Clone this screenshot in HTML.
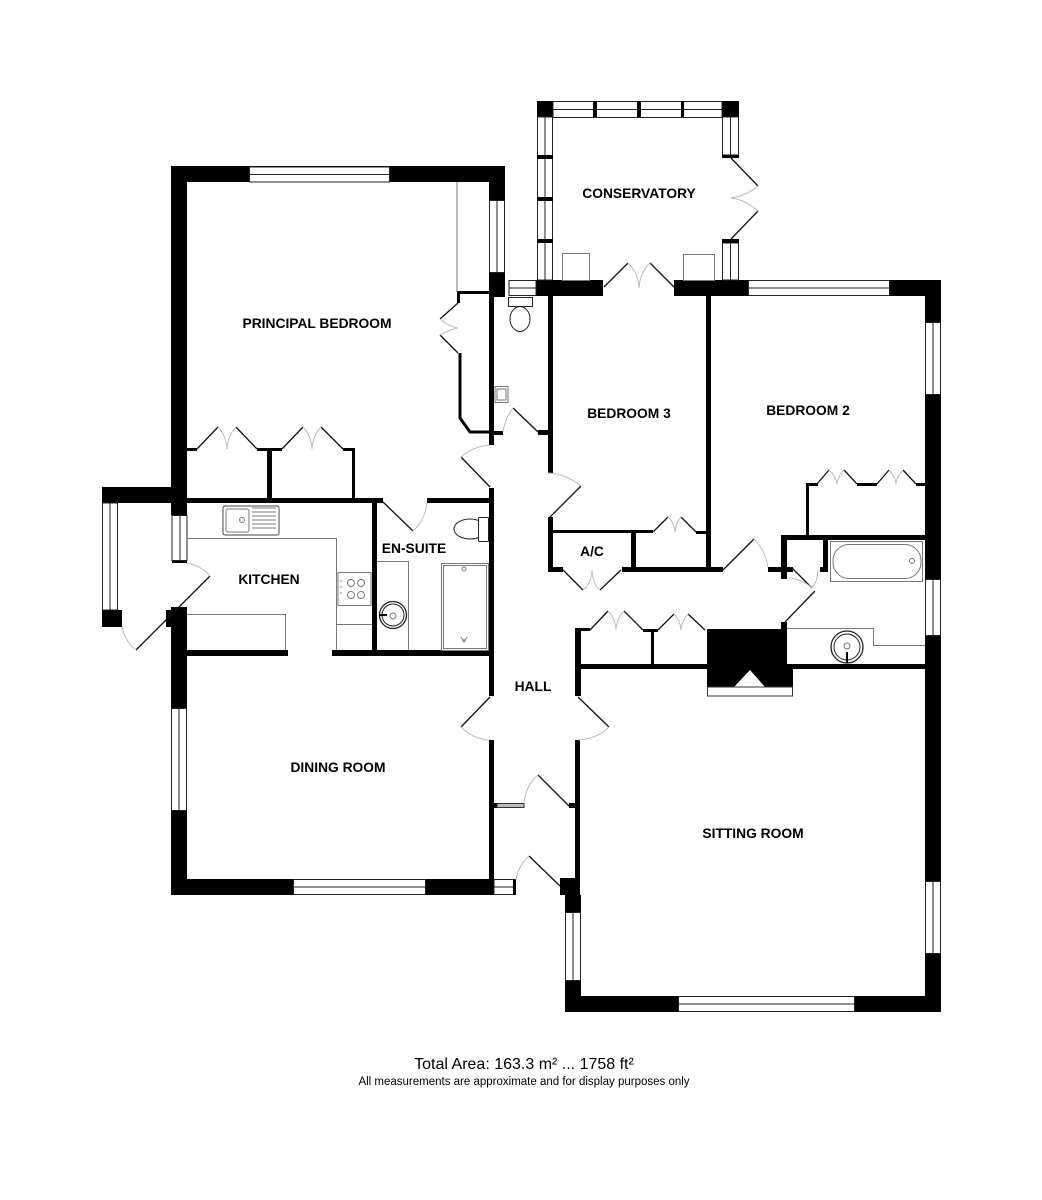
<!DOCTYPE html>
<html><head><meta charset="utf-8"><style>
html,body{margin:0;padding:0;background:#fff;width:1042px;height:1200px;overflow:hidden}
svg{display:block}
text{font-family:"Liberation Sans",sans-serif}
.l{font-weight:bold;font-size:13.8px;text-anchor:middle;fill:#000}
.w{fill:#fff;stroke:#222;stroke-width:1}
.g{fill:none;stroke:#777;stroke-width:1}
.d{stroke:#111;stroke-width:1.3;fill:none}
.a{stroke:#bbb;stroke-width:1;fill:none}
.f{fill:#fff;stroke:#333;stroke-width:1}
</style></head><body>
<svg width="1042" height="1200" viewBox="0 0 1042 1200" xmlns="http://www.w3.org/2000/svg">
<rect width="1042" height="1200" fill="#fff"/>
<g fill="#000">
<rect x="171" y="166" width="334" height="16"/>
<rect x="171" y="166" width="16" height="349"/>
<rect x="489" y="166" width="16" height="34"/>
<rect x="489" y="272" width="16" height="25"/>
<rect x="102" y="487" width="85" height="16"/>
<rect x="102" y="610" width="20" height="17"/>
<rect x="172" y="560" width="15" height="3"/>
<rect x="171" y="607" width="16" height="288"/>
<rect x="166" y="610" width="6" height="17"/>
<rect x="171" y="879" width="323" height="16"/>
<rect x="489" y="292" width="5" height="153"/>
<rect x="489" y="488" width="5" height="208"/>
<rect x="489" y="740" width="5" height="155"/>
<rect x="187" y="498" width="196" height="5"/>
<rect x="427" y="498" width="62" height="5"/>
<rect x="372" y="503" width="5" height="150"/>
<rect x="187" y="650" width="101" height="6"/>
<rect x="332" y="650" width="157" height="6"/>
<rect x="187" y="448" width="10" height="3"/>
<rect x="257" y="448" width="25" height="3"/>
<rect x="343" y="448" width="12" height="3"/>
<rect x="267" y="448" width="5" height="50"/>
<rect x="352" y="448" width="3" height="50"/>
<rect x="457" y="291" width="33" height="3"/>
<rect x="457" y="291" width="3" height="12"/>
<rect x="494" y="431" width="9" height="4"/>
<rect x="538" y="430" width="10" height="5"/>
<rect x="536" y="280" width="67" height="16"/>
<rect x="674" y="280" width="74" height="16"/>
<rect x="889" y="280" width="52" height="16"/>
<rect x="925" y="280" width="16" height="732"/>
<rect x="548" y="296" width="5" height="177"/>
<rect x="706" y="296" width="5" height="276"/>
<rect x="537" y="101" width="16" height="16"/>
<rect x="722" y="101" width="17" height="16"/>
<rect x="548" y="517" width="5" height="55"/>
<rect x="553" y="530" width="100" height="3"/>
<rect x="696" y="531" width="10" height="3"/>
<rect x="553" y="567" width="10" height="5"/>
<rect x="622" y="567" width="101" height="5"/>
<rect x="631" y="533" width="5" height="37"/>
<rect x="806" y="483" width="3" height="52"/>
<rect x="806" y="483" width="12" height="3"/>
<rect x="857" y="483" width="20" height="3"/>
<rect x="916" y="483" width="9" height="3"/>
<rect x="781" y="535" width="144" height="5"/>
<rect x="781" y="535" width="6" height="44"/>
<rect x="768" y="567" width="25" height="5"/>
<rect x="823" y="540" width="5" height="32"/>
<rect x="820" y="567" width="8" height="5"/>
<rect x="575" y="628" width="6" height="68"/>
<rect x="575" y="628" width="15" height="3"/>
<rect x="643" y="629" width="15" height="3"/>
<rect x="651" y="630" width="3" height="34"/>
<rect x="575" y="664" width="350" height="5"/>
<rect x="707" y="629" width="80" height="35"/>
<rect x="781" y="622" width="6" height="42"/>
<rect x="707" y="669" width="86" height="18"/>
<rect x="575" y="740" width="5" height="172"/>
<rect x="494" y="803" width="3" height="5"/>
<rect x="569" y="803" width="6" height="5"/>
<rect x="560" y="878" width="20" height="17"/>
<rect x="565" y="895" width="16" height="17"/>
<rect x="565" y="980" width="16" height="32"/>
<rect x="565" y="996" width="376" height="16"/>
</g>
<path d="M460 353V418L470 432H490" fill="none" stroke="#000" stroke-width="3"/>
<polygon points="734,687 765,687 750,670" fill="#fff"/>
<rect x="707.5" y="687" width="85" height="9" class="f"/>
<g class="w">
<rect x="249.5" y="167" width="140" height="15"/><line x1="249" y1="174.5" x2="389" y2="174.5"/>
<rect x="489.5" y="200.5" width="15" height="72"/><line x1="497" y1="200" x2="497" y2="272"/>
<rect x="509" y="280.5" width="27" height="15"/><line x1="509" y1="288" x2="536" y2="288"/>
<rect x="748.5" y="280.5" width="141" height="15"/><line x1="748" y1="288" x2="889" y2="288"/>
<rect x="925.5" y="322.5" width="15" height="72"/><line x1="933" y1="322" x2="933" y2="394"/>
<rect x="925.5" y="579.5" width="15" height="56"/><line x1="933" y1="579" x2="933" y2="635"/>
<rect x="925.5" y="881.5" width="15" height="72"/><line x1="933" y1="881" x2="933" y2="953"/>
<rect x="678.5" y="996.5" width="176" height="15"/><line x1="678" y1="1004" x2="854" y2="1004"/>
<rect x="565.5" y="912.5" width="15" height="68"/><line x1="573" y1="912" x2="573" y2="980"/>
<rect x="293.5" y="879.5" width="132" height="15"/><line x1="293" y1="887" x2="425" y2="887"/>
<rect x="171.5" y="708.5" width="15" height="102"/><line x1="179" y1="708" x2="179" y2="810"/>
<rect x="172" y="515.5" width="15" height="45"/><line x1="180" y1="515" x2="180" y2="560"/>
<rect x="102.5" y="503" width="15" height="107"/><line x1="110" y1="503" x2="110" y2="610"/>
<rect x="494" y="879.5" width="21" height="15"/><line x1="494" y1="887" x2="515" y2="887"/>
<rect x="553" y="101.5" width="169" height="16"/><line x1="553" y1="109.5" x2="722" y2="109.5"/>
<rect x="537.5" y="117" width="15" height="163"/><line x1="545" y1="117" x2="545" y2="280"/>
<rect x="722.5" y="117" width="16" height="38"/><line x1="730.5" y1="117" x2="730.5" y2="155"/>
<rect x="722.5" y="243" width="16" height="37"/><line x1="730.5" y1="243" x2="730.5" y2="280"/>
</g>
<g fill="#000">
<rect x="593" y="101" width="4" height="16"/><rect x="637" y="101" width="4" height="16"/><rect x="681" y="101" width="3" height="16"/>
<rect x="537" y="155" width="16" height="4"/><rect x="537" y="197" width="16" height="4"/><rect x="537" y="239" width="16" height="4"/>
<rect x="722" y="155" width="17" height="3"/><rect x="722" y="239" width="17" height="4"/>
<rect x="513" y="879" width="3" height="16"/>
</g>
<rect x="497" y="803.5" width="27" height="4" fill="#bbb" stroke="#333"/>
<g class="d">
<path d="M731 158L758 186M758 211L731 239"/>
<path d="M604 287L628 263M650 263L674 287"/>
<path d="M458 303L440 319M440 335L458 353"/>
<path d="M513 408L538 432"/>
<path d="M461 457L490 487"/>
<path d="M197 449L218 427M236 427L257 449M282 449L303 427M321 427L343 449"/>
<path d="M383 502L413 531"/>
<path d="M210 576L136 650"/>
<path d="M581 486L550 517"/>
<path d="M563 570L583 590M600 590L621 570"/>
<path d="M653 532L668 517M681 517L696 532"/>
<path d="M723 570L754 539"/>
<path d="M792 568L812 588"/>
<path d="M815 591L785 622"/>
<path d="M817 484L829 470M844 470L857 484M877 484L889 470M903 470L916 484"/>
<path d="M590 630L608 611M624 611L643 630M658 630L674 614M688 614L705 630"/>
<path d="M490 697L461 727M578 697L609 727"/>
<path d="M538 775L569 806M529 856L560 886"/>
</g>
<g class="a">
<path d="M758 186Q746 196 731 198Q746 200 758 211"/>
<path d="M628 263Q638 272 639 288Q640 272 650 263"/>
<path d="M440 319Q450 327 458 328Q450 329 440 335"/>
<path d="M513 408Q505 418 503 432"/>
<path d="M461 457Q472 447 489 445"/>
<path d="M218 427Q226 435 227 449Q228 435 236 427M303 427Q311 435 312 449Q313 435 321 427"/>
<path d="M413 531Q425 520 427 503"/>
<path d="M187 563Q202 566 210 576"/>
<path d="M136 650Q124 640 122 627"/>
<path d="M548 473Q566 474 581 486"/>
<path d="M583 590Q591 585 592 570Q593 585 600 590"/>
<path d="M668 517Q674 522 675 532Q676 522 681 517"/>
<path d="M754 539Q766 552 768 567"/>
<path d="M812 588Q818 580 818 570M789 578Q802 579 812 588"/>
<path d="M829 470Q836 476 837 484Q838 476 844 470M889 470Q895 476 896 484Q897 476 903 470"/>
<path d="M608 611Q616 620 616 630Q616 620 624 611M674 614Q680 620 681 630Q682 620 688 614"/>
<path d="M461 727Q473 739 489 740M609 727Q597 739 578 740"/>
<path d="M538 775Q526 785 524 803M529 856Q518 866 516 880"/>
</g>
<g class="g">
<path d="M457 182V292"/>
<rect x="562.5" y="253.5" width="27" height="27"/>
<rect x="683.5" y="254.5" width="31" height="26"/>
<path d="M187 538.5H336.5V650M336 624.5H372"/>
<path d="M187 614.5H285.5V650"/>
<path d="M377 561.5H408.5V650"/>
<path d="M787 628.5H873.5V645.5H925"/>
<rect x="830.5" y="541.5" width="92" height="40"/>
<rect x="833" y="544.5" width="88" height="34" rx="16"/>
<circle cx="912" cy="561" r="2.5"/>
<rect x="441.5" y="563.5" width="47" height="87"/>
<rect x="443.5" y="565.5" width="43" height="83"/>
<circle cx="464" cy="569" r="2"/>
<path d="M464 642V639M461 637L464 642L467 637"/>
<rect x="338" y="572.5" width="33" height="33"/>
<circle cx="351" cy="583" r="3.5"/><circle cx="361" cy="583" r="3.5"/>
<circle cx="351" cy="595" r="3.5"/><circle cx="361" cy="595" r="3.5"/>
<path d="M340 581h2M340 587h2M340 593h2"/>
<rect x="223" y="506" width="56" height="29" rx="2" stroke="#444"/>
<rect x="226" y="509" width="23" height="23" rx="2"/>
<circle cx="242" cy="520" r="2.5"/>
<path d="M252 508H276M252 512H276M252 516H276M252 520H276M252 524H276M252 528H276"/>
<rect x="495" y="386.5" width="13" height="16" fill="#fff"/><rect x="497" y="389" width="9" height="11"/>
</g>
<g fill="#fff" stroke="#222" stroke-width="1">
<ellipse cx="520" cy="319" rx="10" ry="12.5"/>
<rect x="508.5" y="297.5" width="24" height="9"/>
<ellipse cx="470" cy="529" rx="16" ry="10"/>
<rect x="478.5" y="517.5" width="10" height="24" rx="1"/>
</g>
<g fill="none" stroke="#222">
<circle cx="393" cy="615" r="13.5" stroke-width="1.3"/>
<circle cx="393" cy="615" r="11"/>
<circle cx="847" cy="647" r="16" stroke-width="1.3"/>
<circle cx="847" cy="647" r="13"/>
</g>
<rect x="379" y="614" width="8" height="2" fill="#000"/>
<rect x="846" y="652" width="2" height="11" fill="#000"/>
<circle cx="393" cy="616" r="3" fill="none" stroke="#777"/>
<circle cx="847" cy="646" r="3" fill="none" stroke="#777"/>
<text class="l" x="639" y="198">CONSERVATORY</text>
<text class="l" x="317" y="328">PRINCIPAL BEDROOM</text>
<text class="l" x="629" y="418">BEDROOM 3</text>
<text class="l" x="808" y="415">BEDROOM 2</text>
<text class="l" x="592" y="556">A/C</text>
<text class="l" x="414" y="553">EN-SUITE</text>
<text class="l" x="269" y="584">KITCHEN</text>
<text class="l" x="533" y="691">HALL</text>
<text class="l" x="338" y="772">DINING ROOM</text>
<text class="l" x="753" y="838">SITTING ROOM</text>
<text x="524" y="1069" font-size="16" text-anchor="middle">Total Area: 163.3 m² ... 1758 ft²</text>
<text x="524" y="1085" font-size="11.5" text-anchor="middle">All measurements are approximate and for display purposes only</text>
</svg>
</body></html>
